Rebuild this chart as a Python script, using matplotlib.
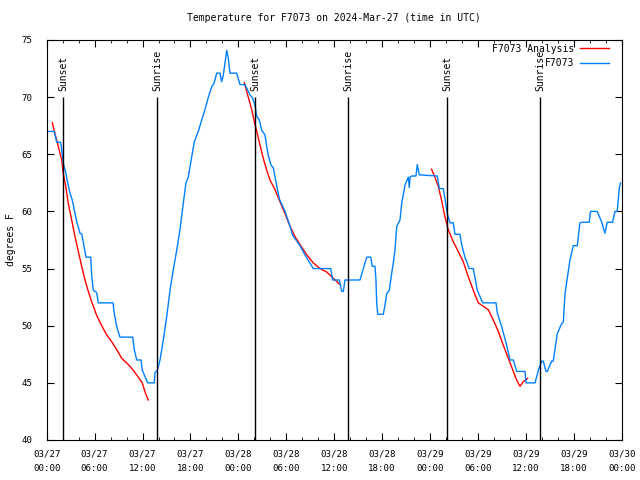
import numpy as np
import pandas as pd
import matplotlib
matplotlib.use("Agg")
import matplotlib.pyplot as plt
import matplotlib.dates as mdates

plt.rcParams['font.family'] = ['DejaVu Sans Mono']
plt.rcParams['font.size'] = 7

start = pd.Timestamp('2024-03-27 00:00')

# observed temperature (hours since start, degrees F)
obs_h = [0.2, 0.95, 1.25, 1.75, 1.88, 2.08, 2.38, 2.63, 2.92, 3.2, 3.46, 3.76, 4.17, 4.4,
         4.71, 4.92, 5.51, 5.63, 5.84, 6.26, 6.46, 8.3, 8.46, 8.77, 9.18, 10.77, 10.97,
         11.27, 11.81, 11.97, 12.65, 13.47, 13.56, 13.85, 14.19, 14.6, 15.03, 15.44,
         15.85, 16.28, 16.69, 17.1, 17.44, 17.73, 18.16, 18.48, 18.98, 19.41, 19.82,
         20.24, 20.66, 20.95, 21.29, 21.7, 21.91, 22.11, 22.33, 22.54, 22.74, 22.95,
         23.79, 24.2, 24.83, 25.46, 25.8, 26.08, 26.3, 26.62, 26.92, 27.33, 27.55, 27.75,
         28.05, 28.38, 28.59, 29.13, 29.84, 30.47, 30.8, 31.63, 32.34, 33.38, 35.56,
         35.81, 36.64, 36.94, 37.14, 37.35, 39.23, 39.65, 39.86, 40.07, 40.57, 40.77,
         41.11, 41.23, 41.32, 41.45, 42.15, 42.36, 42.57, 42.9, 43.2, 43.4, 43.61, 43.83,
         44.24, 44.45, 44.87, 45.28, 45.4, 45.5, 45.7, 46.24, 46.4, 46.66, 48.91, 49.16,
         49.66, 50.16, 50.5, 50.91, 51.12, 51.75, 51.96, 52.37, 52.91, 53.42, 53.92, 54.6,
         56.26, 56.43, 56.98, 57.52, 58.02, 58.43, 58.86, 59.9, 60.02, 61.15, 61.56, 61.98,
         62.18, 62.52, 62.68, 63.23, 63.43, 63.93, 64.49, 64.69, 64.9, 65.52, 65.94, 66.44,
         66.77, 66.98, 67.93, 68.1, 68.93, 69.48, 69.9, 70.19, 70.86, 71.15, 71.44, 71.69,
         71.85]
obs_t = [67.0, 67.0, 66.05, 66.05, 65.4, 64.2, 63.4, 62.5, 61.6, 61.0, 60.1, 59.1, 58.1, 58.0,
         56.8, 56.0, 56.0, 54.4, 53.1, 52.9, 52.0, 52.0, 51.1, 49.9, 49.0, 49.0, 47.9,
         47.0, 47.0, 46.1, 45.0, 45.0, 45.9, 46.1, 47.0, 48.75, 50.8, 53.1,
         54.9, 56.6, 58.4, 60.7, 62.5, 63.0, 64.8, 66.1, 67.0, 68.0, 68.9,
         70.0, 70.9, 71.2, 72.1, 72.1, 71.35, 71.9, 73.0, 74.1, 73.4, 72.1,
         72.1, 71.1, 71.1, 70.2, 69.9, 69.3, 68.3, 68.0, 67.1, 66.7, 65.7, 64.9,
         64.1, 63.8, 63.0, 61.1, 60.0, 58.7, 57.9, 57.1, 56.2, 55.0, 55.0,
         54.0, 54.0, 53.0, 53.0, 54.0, 54.0, 55.0, 55.5, 56.0, 56.0, 55.2,
         55.2, 54.0, 52.0, 51.0, 51.0, 51.8, 52.8, 53.1, 54.6, 55.5, 56.6, 58.7,
         59.25, 60.7, 62.3, 63.0, 62.1, 63.0, 63.1, 63.1, 64.1, 63.2, 63.1, 62.0,
         62.0, 59.8, 59.0, 59.0, 58.0, 58.0, 57.1, 56.0, 55.0, 55.0, 53.1, 52.0,
         52.0, 51.1, 49.9, 48.5, 47.0, 47.0, 46.0, 46.0, 45.0, 45.0, 46.1, 46.9,
         46.9, 46.0, 46.0, 46.9, 46.9, 49.3, 50.2, 50.3, 52.8, 55.75, 57.0, 57.0,
         59.0, 59.05, 59.05, 60.0, 60.0, 59.1, 58.1, 59.05, 59.05, 60.0, 60.0, 62.0,
         62.5]

# analysis curves, one per night
ana1_h = [0.7, 1.04, 1.45, 1.88, 2.08, 2.38, 2.7, 3.13, 3.54, 3.96, 4.38, 4.8, 5.21, 5.63,
          6.26, 6.89, 7.51, 8.14, 8.77, 9.39, 10.22, 10.84, 11.47, 11.97, 12.31, 12.72]
ana1_t = [67.77, 66.8, 65.7, 64.5, 63.3, 62.2, 60.7, 59.25, 57.8, 56.5, 55.2, 54.0, 53.0, 52.1,
          50.9, 50.0, 49.2, 48.6, 47.9, 47.15, 46.6, 46.1, 45.5, 45.0, 44.2, 43.5]
ana2_h = [24.74, 25.24, 25.67, 25.96, 26.3, 26.71, 27.12, 27.55, 27.96, 28.59, 29.21, 29.84,
          30.47, 31.09, 31.72, 32.56, 33.38, 34.22, 35.06, 35.89, 36.73]
ana2_t = [71.27, 70.0, 68.9, 68.0, 67.0, 65.8, 64.65, 63.6, 62.75, 61.9, 60.85, 59.8,
          58.7, 57.8, 57.1, 56.2, 55.5, 55.0, 54.7, 54.15, 53.6]
ana3_h = [48.19, 48.6, 49.03, 49.44, 49.86, 50.28, 50.91, 51.53, 52.16, 52.79, 53.41, 54.04,
          54.67, 55.29, 55.92, 56.55, 57.17, 57.8, 58.43, 58.84, 59.26, 59.68, 60.22]
ana3_t = [63.7, 63.0, 62.2, 61.0, 59.55, 58.4, 57.35, 56.5, 55.6, 54.3, 53.1, 52.0,
          51.7, 51.4, 50.5, 49.5, 48.3, 47.15, 46.0, 45.25, 44.7, 45.1, 45.4]

sun_h = [2.04, 13.81, 26.08, 37.73, 50.13, 61.76]
sun_lbl = ['Sunset', 'Sunrise', 'Sunset', 'Sunrise', 'Sunset', 'Sunrise']


def to_time(hours):
    return start + pd.to_timedelta(hours, unit='h')


red = '#ff0000'
blue = '#0080ff'

fig = plt.figure(figsize=(6.4, 4.8), dpi=100)
ax = fig.add_axes([46.7 / 640, 40 / 480, 575 / 640, 400 / 480])

first = True
for hh, tt in [(ana1_h, ana1_t), (ana2_h, ana2_t), (ana3_h, ana3_t)]:
    ax.plot(to_time(hh), tt, color=red, lw=1, label='F7073 Analysis' if first else None)
    first = False
ax.plot(to_time(obs_h), obs_t, color=blue, lw=1, label='F7073')

for h, lbl in zip(sun_h, sun_lbl):
    x = to_time([h])[0]
    ax.vlines(x, 40, 70, color='black', lw=1)
    ax.text(x, 70.5, lbl, rotation=90, ha='center', va='bottom', fontsize=7)

ax.set_xlim(start, start + pd.Timedelta(hours=72))
ax.set_ylim(40, 75)
ax.set_yticks(range(40, 76, 5))
ax.xaxis.set_major_locator(mdates.HourLocator(byhour=[0, 6, 12, 18]))
ax.xaxis.set_minor_locator(mdates.HourLocator(interval=2))
ax.xaxis.set_major_formatter(mdates.DateFormatter('%m/%d\n%H:%M'))
ax.tick_params(which='both', direction='in', top=True, right=True)
ax.tick_params(which='major', length=5, labelsize=6.6)
ax.tick_params(axis='x', which='major', pad=7)
ax.tick_params(axis='y', which='major', pad=10.5)
ax.tick_params(which='minor', length=2.5)

ax.set_ylabel('degrees F', fontsize=7, labelpad=4)
ax.set_title('Temperature for F7073 on 2024-Mar-27 (time in UTC)', fontsize=7, pad=14)

leg = ax.legend(loc='upper right', bbox_to_anchor=(0.984, 1.0), frameon=False,
                markerfirst=False, fontsize=7, handlelength=2.9, handletextpad=0.65,
                labelspacing=0.45, borderaxespad=0)

fig.canvas.draw()
for lab in ax.get_xticklabels():
    lab.set_linespacing(1.8)

fig.savefig('out.png', dpi=100)
